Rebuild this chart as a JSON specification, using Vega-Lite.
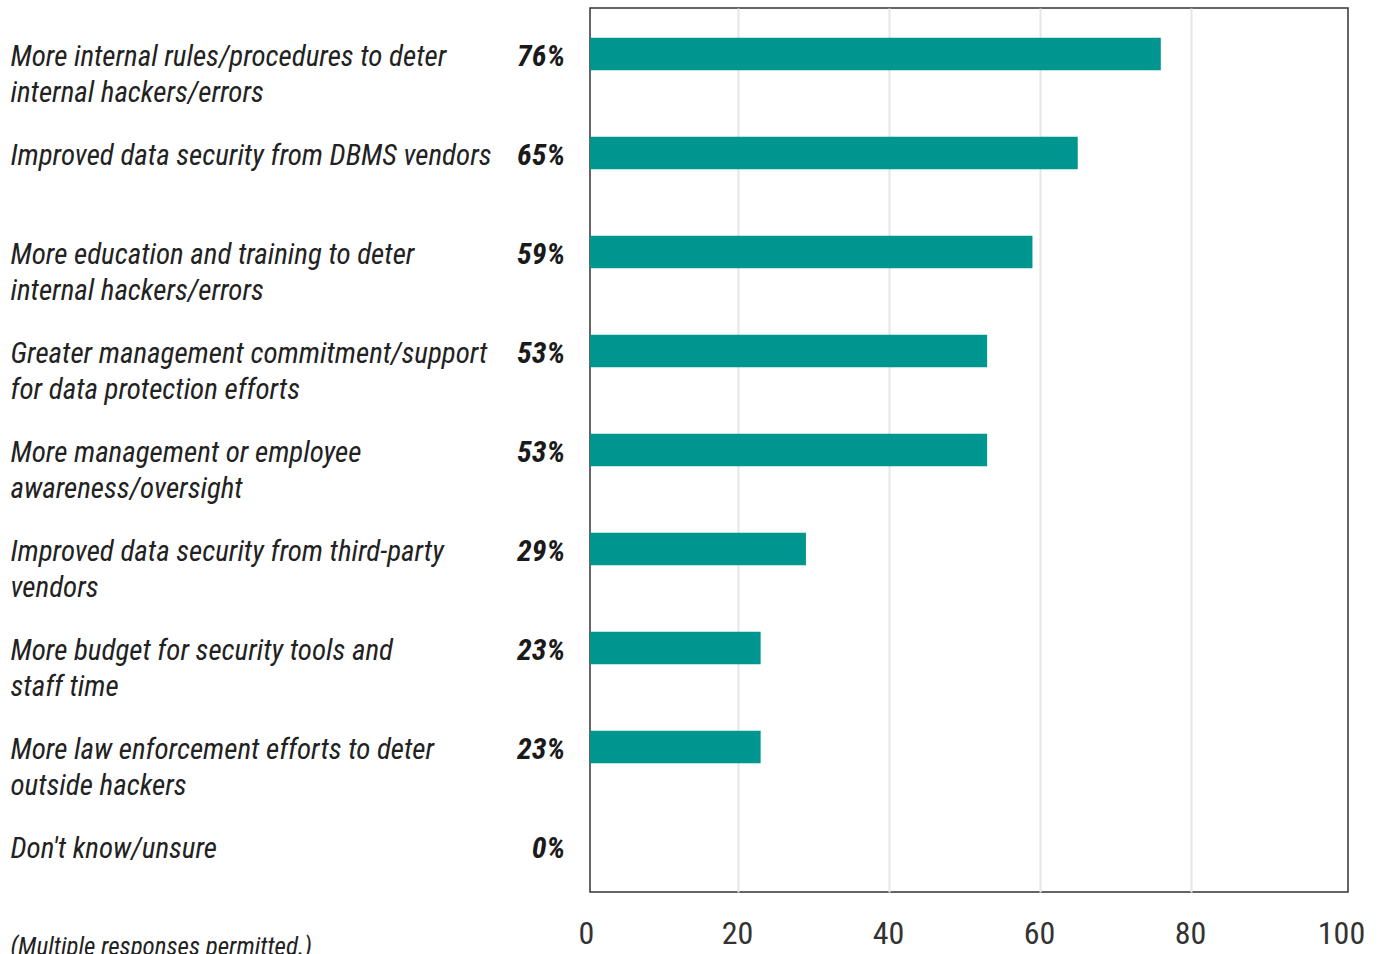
{
  "$schema": "https://vega.github.io/schema/vega-lite/v6.json",
  "width": 758,
  "height": 884,
  "autosize": "none",
  "padding": {"left": 590, "top": 8, "right": 32, "bottom": 62},
  "background": "white",
  "config": {
    "font": "Roboto Condensed, Roboto",
    "view": {"stroke": "#333333", "strokeWidth": 1.5}
  },
  "data": {
    "values": [
      {"label": "More internal rules/procedures to deter\ninternal hackers/errors", "pct": 76, "pctText": "76%"},
      {"label": "Improved data security from DBMS vendors", "pct": 65, "pctText": "65%"},
      {"label": "More education and training to deter\ninternal hackers/errors", "pct": 59, "pctText": "59%"},
      {"label": "Greater management commitment/support\nfor data protection efforts", "pct": 53, "pctText": "53%"},
      {"label": "More management or employee\nawareness/oversight", "pct": 53, "pctText": "53%"},
      {"label": "Improved data security from third-party\nvendors", "pct": 29, "pctText": "29%"},
      {"label": "More budget for security tools and\nstaff time", "pct": 23, "pctText": "23%"},
      {"label": "More law enforcement efforts to deter\noutside hackers", "pct": 23, "pctText": "23%"},
      {"label": "Don't know/unsure", "pct": 0, "pctText": "0%"}
    ]
  },
  "encoding": {
    "y": {
      "field": "label",
      "type": "nominal",
      "sort": null,
      "scale": {"paddingInner": 0.67, "paddingOuter": 0.3},
      "axis": {
        "title": null,
        "orient": "left",
        "domain": false,
        "ticks": false,
        "tickSize": 0,
        "grid": false,
        "labelPadding": 580,
        "labelAlign": "left",
        "labelBaseline": "alphabetic",
        "labelOffset": 12,
        "labelFontSize": 29,
        "labelFontStyle": "italic",
        "labelColor": "#222222",
        "labelLineHeight": 36,
        "labelLimit": 0,
        "labelExpr": "split(datum.value, '\\n')"
      }
    }
  },
  "layer": [
    {
      "mark": {"type": "bar", "color": "#009690", "clip": true},
      "encoding": {
        "x": {
          "field": "pct",
          "type": "quantitative",
          "scale": {"domain": [0, 100], "range": [-3, 752]},
          "axis": {
            "title": "(Multiple responses permitted.)",
            "titleX": -580,
            "titleY": 62,
            "titleAlign": "left",
            "titleAnchor": "start",
            "titleBaseline": "alphabetic",
            "titleFontSize": 25,
            "titleFontStyle": "italic",
            "titleFontWeight": "normal",
            "titleColor": "#222222",
            "values": [0, 20, 40, 60, 80, 100],
            "labelFontSize": 32,
            "labelColor": "#333333",
            "labelPadding": 26,
            "labelOffset": -1,
            "labelFlush": false,
            "domain": false,
            "ticks": false,
            "grid": true,
            "gridWidth": 2,
            "gridColor": {"condition": {"test": "datum.value == 0 || datum.value == 100", "value": "transparent"}, "value": "#e6e6e6"}
          }
        }
      }
    },
    {
      "mark": {"type": "text", "align": "right", "baseline": "alphabetic", "dx": -22, "dy": 12, "fontSize": 30, "fontStyle": "italic", "fontWeight": "bold", "color": "#1a1a1a"},
      "encoding": {
        "x": {"datum": 0},
        "text": {"field": "pctText"}
      }
    }
  ]
}
